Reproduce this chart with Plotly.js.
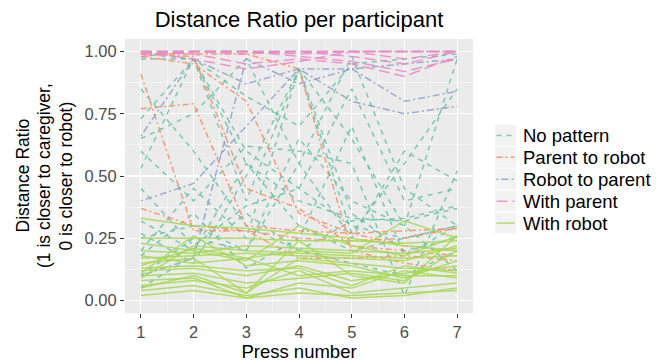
<!DOCTYPE html>
<html>
<head>
<meta charset="utf-8">
<script src="https://cdn.plot.ly/plotly-3.0.1.min.js"></script>
<style>html,body{margin:0;padding:0;background:#fff;}#chart{width:670px;height:362px;}</style>
</head>
<body>
<div id="chart"></div>
<script>
// Press numbers (x axis)
const pressNumbers = [1, 2, 3, 4, 5, 6, 7];
const yTickVals = [0, 0.25, 0.5, 0.75, 1];
const yTickText = ["0.00", "0.25", "0.50", "0.75", "1.00"];
const groupNames = ["No pattern", "Parent to robot", "Robot to parent", "With parent", "With robot"];
const yTitleLines = ["Distance Ratio", "(1 is closer to caregiver,", "0 is closer to robot)"];

// Distance ratio per participant, one row per participant
const noPattern = [
  [0.97, 0.97, 0.60, 0.45, 0.30, 0.25, 0.30],
  [0.73, 0.97, 0.55, 0.40, 0.33, 0.32, 0.37],
  [0.53, 0.97, 0.40, 0.93, 0.35, 0.20, 0.25],
  [0.65, 0.75, 0.97, 0.55, 0.98, 0.45, 0.30],
  [0.27, 0.15, 0.50, 0.93, 0.27, 0.55, 0.85],
  [0.20, 0.45, 0.25, 0.93, 0.65, 0.30, 0.97],
  [0.45, 0.22, 0.38, 0.45, 0.85, 0.40, 0.45],
  [0.85, 0.60, 0.30, 0.20, 0.32, 0.33, 0.38],
  [0.18, 0.35, 0.13, 0.25, 0.70, 0.18, 0.30],
  [0.10, 0.25, 0.20, 0.55, 0.25, 0.60, 0.48],
  [0.32, 0.20, 0.55, 0.30, 0.20, 0.25, 0.30],
  [0.05, 0.18, 0.35, 0.20, 0.15, 0.10, 0.20],
  [0.60, 0.40, 0.62, 0.60, 0.55, 0.02, 0.52],
  [0.25, 0.30, 0.20, 0.65, 0.40, 0.30, 0.12],
  [0.99, 0.97, 0.82, 0.70, 0.95, 0.97, 0.99]
];
const parentToRobot = [
  [0.77, 0.79, 0.30, 0.28, 0.27, 0.28, 0.29],
  [0.91, 0.28, 0.28, 0.17, 0.17, 0.18, 0.16],
  [0.98, 0.95, 0.80, 0.35, 0.27, 0.22, 0.20],
  [0.99, 0.98, 0.45, 0.37, 0.22, 0.20, 0.18],
  [0.99, 0.99, 0.99, 0.93, 0.20, 0.15, 0.12],
  [0.37, 0.30, 0.28, 0.25, 0.24, 0.25, 0.29]
];
const robotToParent = [
  [0.66, 0.97, 0.87, 0.93, 0.93, 0.80, 0.84],
  [0.40, 0.47, 0.70, 0.93, 0.80, 0.75, 0.78],
  [0.10, 0.17, 0.97, 0.87, 0.93, 0.95, 0.97]
];
const withParent = [
  [1.00, 1.00, 1.00, 1.00, 1.00, 1.00, 1.00],
  [0.99, 1.00, 0.99, 1.00, 1.00, 1.00, 1.00],
  [1.00, 0.97, 0.93, 0.96, 1.00, 1.00, 1.00],
  [1.00, 0.99, 0.95, 0.97, 0.95, 0.90, 0.98],
  [1.00, 1.00, 1.00, 0.98, 0.96, 0.92, 0.97],
  [1.00, 1.00, 1.00, 1.00, 0.98, 0.95, 1.00],
  [0.98, 1.00, 1.00, 0.99, 1.00, 0.97, 1.00]
];
const withRobot = [
  [0.33, 0.30, 0.29, 0.27, 0.25, 0.22, 0.20],
  [0.25, 0.25, 0.25, 0.24, 0.24, 0.23, 0.24],
  [0.23, 0.20, 0.16, 0.30, 0.22, 0.18, 0.26],
  [0.18, 0.15, 0.17, 0.20, 0.19, 0.32, 0.25],
  [0.17, 0.18, 0.19, 0.18, 0.17, 0.16, 0.22],
  [0.15, 0.17, 0.03, 0.17, 0.15, 0.13, 0.12],
  [0.14, 0.21, 0.17, 0.10, 0.12, 0.10, 0.10],
  [0.12, 0.13, 0.10, 0.14, 0.08, 0.11, 0.14],
  [0.10, 0.11, 0.07, 0.09, 0.11, 0.08, 0.20],
  [0.08, 0.09, 0.01, 0.07, 0.05, 0.12, 0.09],
  [0.06, 0.08, 0.05, 0.12, 0.03, 0.05, 0.07],
  [0.04, 0.06, 0.02, 0.05, 0.01, 0.02, 0.05],
  [0.02, 0.04, 0.01, 0.03, 0.02, 0.03, 0.04],
  [0.20, 0.19, 0.22, 0.21, 0.20, 0.19, 0.21],
  [0.11, 0.26, 0.14, 0.16, 0.14, 0.09, 0.16],
  [0.05, 0.10, 0.03, 0.24, 0.10, 0.07, 0.26],
  [0.13, 0.14, 0.12, 0.13, 0.06, 0.14, 0.11],
  [0.09, 0.22, 0.20, 0.19, 0.18, 0.17, 0.18]
];

const groupData = [noPattern, parentToRobot, robotToParent, withParent, withRobot];
const groupColors = ["#66C2A5", "#FC8D62", "#8DA0CB", "#E78AC3", "#A6D854"];
const groupDash = ["5px,5px", "6px,3px,2px,3px", "2px,3px,7px,3px", "11px,5px", "solid"];

const traces = [];
groupData.forEach((rows, g) => {
  rows.forEach((vals, i) => {
    traces.push({
      type: "scatter", mode: "lines",
      x: pressNumbers, y: vals,
      name: groupNames[g], legendgroup: groupNames[g],
      showlegend: false,
      opacity: 0.85,
      line: {color: groupColors[g], width: 1.5, dash: groupDash[g]},
      hoverinfo: "skip"
    });
  });
});

// Plot-area geometry (pixels) for placing legend / axis-title pieces
const W = 670, H = 362;
const M = {l: 125, r: 197, t: 39, b: 49};
const pw = W - M.l - M.r, ph = H - M.t - M.b;
const px2x = px => (px - M.l) / pw;
const py2y = py => (H - M.b - py) / ph;

const font = "Liberation Sans, Arial, sans-serif";
const shapes = [];
const annotations = [];

// Manual legend (ggplot-style key boxes)
const keyTop = 124.5, keyStep = 21.9;
groupNames.forEach((name, g) => {
  const y0 = keyTop + g * keyStep, y1 = y0 + keyStep, yc = (y0 + y1) / 2;
  shapes.push({type: "rect", xref: "paper", yref: "paper", layer: "below",
    x0: px2x(494.5), x1: px2x(516.5), y0: py2y(y1), y1: py2y(y0),
    fillcolor: "#F2F2F2", line: {color: "#FFFFFF", width: 1}});
  shapes.push({type: "line", xref: "paper", yref: "paper",
    x0: px2x(496.5), x1: px2x(514.5), y0: py2y(yc), y1: py2y(yc),
    opacity: 0.85, line: {color: groupColors[g], width: 1.5, dash: groupDash[g]}});
  annotations.push({xref: "paper", yref: "paper", x: px2x(520.5), y: py2y(yc),
    xanchor: "left", yanchor: "middle", showarrow: false, text: name,
    font: {family: font, size: 18.5, color: "#000"}});
});

// Y-axis title, three lines
const yTitleX = [22.5, 44, 65.5];
yTitleLines.forEach((t, i) => {
  annotations.push({xref: "paper", yref: "paper", x: px2x(yTitleX[i]), y: 0.5,
    xanchor: "center", yanchor: "middle", textangle: -90, showarrow: false, text: t,
    font: {family: font, size: 17.5, color: "#000"}});
});

const layout = {
  width: W, height: H,
  margin: M,
  paper_bgcolor: "#ffffff",
  plot_bgcolor: "#EBEBEB",
  font: {family: font, color: "#000"},
  title: {text: "Distance Ratio per participant", font: {family: font, size: 22, color: "#000"},
          x: 0.5, xref: "paper", xanchor: "center", y: 1 - 19.5 / H, yref: "container", yanchor: "middle"},
  xaxis: {
    range: [0.7, 7.3], tickvals: pressNumbers, ticktext: pressNumbers.map(String),
    showgrid: true, gridcolor: "#FFFFFF", gridwidth: 1.1, zeroline: false,
    minor: {tickvals: [1.5, 2.5, 3.5, 4.5, 5.5, 6.5], showgrid: true, gridcolor: "#FFFFFF", gridwidth: 0.5, ticklen: 0},
    ticks: "outside", ticklen: 4, tickcolor: "#333333", tickwidth: 1,
    tickfont: {family: font, size: 16.5, color: "#4D4D4D"},
    title: {text: "Press number", font: {family: font, size: 18.5, color: "#000"}, standoff: 2},
    showline: false
  },
  yaxis: {
    range: [-0.05, 1.05], tickvals: yTickVals, ticktext: yTickText,
    showgrid: true, gridcolor: "#FFFFFF", gridwidth: 1.1, zeroline: false,
    minor: {tickvals: [0.125, 0.375, 0.625, 0.875], showgrid: true, gridcolor: "#FFFFFF", gridwidth: 0.5, ticklen: 0},
    ticks: "outside", ticklen: 4, tickcolor: "#333333", tickwidth: 1,
    tickfont: {family: font, size: 16.5, color: "#4D4D4D"},
    showline: false
  },
  shapes: shapes,
  annotations: annotations,
  showlegend: false
};

Plotly.newPlot("chart", traces, layout, {staticPlot: true, displayModeBar: false});
</script>
</body>
</html>
